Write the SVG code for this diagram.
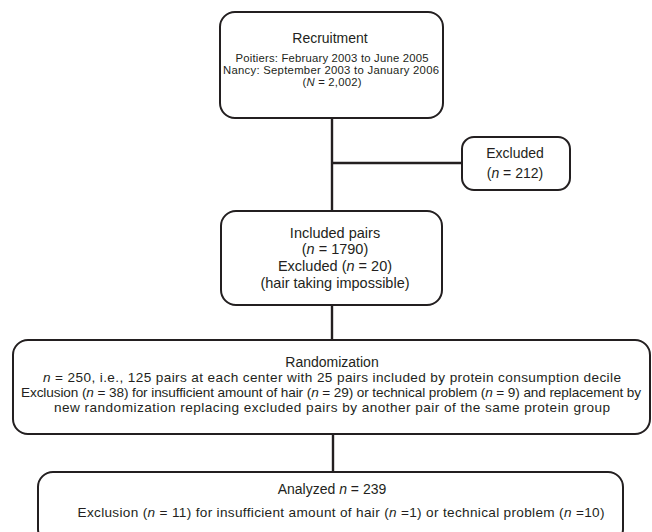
<svg xmlns="http://www.w3.org/2000/svg" width="652" height="532" viewBox="0 0 652 532">
<style>
  .box { fill: #ffffff; stroke: #231f20; stroke-width: 2; }
  .conn { stroke: #231f20; stroke-width: 2.4; fill: none; }
  text { font-family: "Liberation Sans", Arial, sans-serif; fill: #231f20; text-anchor: middle; }
  .t14 { font-size: 14px; }
  .t135 { font-size: 13.6px; }
  .t11 { font-size: 11.3px; }
  .t145 { font-size: 14.5px; }
  .i { font-style: italic; }
</style>
<rect width="652" height="532" fill="#ffffff"/>
<g id="connectors">
  <line class="conn" x1="332" y1="118" x2="332" y2="211"/>
  <line class="conn" x1="332" y1="163" x2="462" y2="163"/>
  <line class="conn" x1="332" y1="305" x2="332" y2="340"/>
  <line class="conn" x1="333" y1="434" x2="333" y2="472"/>
</g>
<g id="recruitment">
  <rect class="box" x="220" y="12" width="223" height="106" rx="15"/>
  <text class="t14" x="330" y="43">Recruitment</text>
  <text class="t11" x="332" y="62" textLength="193">Poitiers: February 2003 to June 2005</text>
  <text class="t11" x="331" y="74" textLength="216">Nancy: September 2003 to January 2006</text>
  <text class="t11" x="332" y="86" textLength="59">(<tspan class="i">N</tspan> = 2,002)</text>
</g>
<g id="excluded">
  <rect class="box" x="462" y="137" width="108" height="53" rx="12"/>
  <text class="t14" x="515" y="158">Excluded</text>
  <text class="t14" x="515" y="178">(<tspan class="i">n</tspan> = 212)</text>
</g>
<g id="included">
  <rect class="box" x="221" y="211" width="221" height="94" rx="15"/>
  <text class="t145" x="335" y="238">Included pairs</text>
  <text class="t145" x="335" y="254">(<tspan class="i">n</tspan> = 1790)</text>
  <text class="t145" x="335" y="271">Excluded (<tspan class="i">n</tspan> = 20)</text>
  <text class="t145" x="335" y="288">(hair taking impossible)</text>
</g>
<g id="randomization">
  <rect class="box" x="13" y="340" width="637" height="94" rx="15"/>
  <text class="t14" x="332" y="367">Randomization</text>
  <text class="t135" x="332" y="382" textLength="578"><tspan class="i">n</tspan> = 250, i.e., 125 pairs at each center with 25 pairs included by protein consumption decile</text>
  <text class="t135" x="331" y="397" textLength="620">Exclusion (<tspan class="i">n</tspan> = 38) for insufficient amount of hair (<tspan class="i">n</tspan> = 29) or technical problem (<tspan class="i">n</tspan> = 9) and replacement by</text>
  <text class="t135" x="332" y="412" textLength="556">new randomization replacing excluded pairs by another pair of the same protein group</text>
</g>
<g id="analyzed">
  <rect class="box" x="38" y="472" width="585" height="72" rx="15"/>
  <text class="t14" x="332" y="494">Analyzed <tspan class="i">n</tspan> = 239</text>
  <text class="t135" x="341" y="517" textLength="527">Exclusion (<tspan class="i">n</tspan> = 11) for insufficient amount of hair (<tspan class="i">n</tspan> =1) or technical problem (<tspan class="i">n</tspan> =10)</text>
</g>
</svg>
